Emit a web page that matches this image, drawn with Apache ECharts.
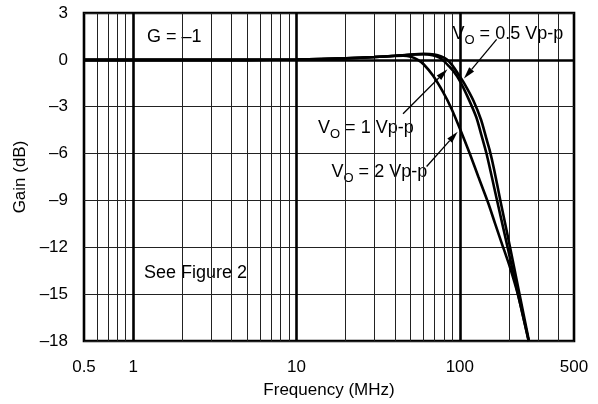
<!DOCTYPE html>
<html><head><meta charset="utf-8">
<script src="https://cdn.jsdelivr.net/npm/echarts@6/dist/echarts.min.js"></script>
<style>html,body{margin:0;padding:0;background:#fff}#c{width:598px;height:404px}</style>
</head><body><div id="c"></div>
<script>
// ---- data ----
const xTickValues = [0.5, 1, 10, 100, 500];
const yTickValues = [3, 0, -3, -6, -9, -12, -15, -18];
const majorFreqLines = [1, 10, 100];
const minorFreqLines = [0.6, 0.7, 0.8, 0.9, 2, 3, 4, 5, 6, 7, 8, 9, 20, 30, 40, 50, 60, 70, 80, 90, 200, 300, 400];

// VO = 0.5 Vp-p
const freqA = [0.5, 1, 2, 5, 10, 20, 30, 40, 50, 60, 70, 77, 83, 90, 97.7, 107, 121, 135, 145, 152, 162, 177, 203, 232, 265];
const gainA = [0, 0, 0, 0, 0.02, 0.1, 0.18, 0.26, 0.34, 0.38, 0.34, 0.22, 0.04, -0.35, -0.9, -1.55, -2.6, -3.85, -5.0, -5.75, -7.0, -9, -12, -15, -18];

// VO = 1 Vp-p
const freqB = [0.5, 1, 2, 5, 10, 20, 30, 40, 50, 60, 68, 75, 80, 86, 91, 100, 112, 126, 135, 145.6, 169, 196, 227, 264];
const gainB = [0, 0, 0, 0, 0.02, 0.1, 0.18, 0.26, 0.33, 0.36, 0.3, 0.15, -0.08, -0.42, -0.7, -1.34, -2.4, -3.66, -4.75, -6, -9, -12, -15, -18];

// VO = 2 Vp-p
const freqC = [0.5, 1, 2, 5, 10, 20, 30, 40, 45, 50, 55, 60, 68.6, 79, 88.9, 100, 115, 130, 149, 164, 180, 203, 229, 264];
const gainC = [0, 0, 0, 0, 0.02, 0.1, 0.18, 0.25, 0.26, 0.2, 0.02, -0.28, -1.02, -2.07, -3.13, -4.4, -6, -7.5, -9.15, -10.45, -11.7, -13.3, -15.2, -18];

const seriesNames = ['VO = 0.5 Vp-p', 'VO = 1 Vp-p', 'VO = 2 Vp-p'];
const arrowFrom = [[168, 1.31], [44.9, -3.45], [62.6, -6.83]];
const arrowTo = [[106, -1.2], [84, -0.6], [97, -4.6]];

// ---- chart ----
const FONT = '"Liberation Sans", Arial, Helvetica, sans-serif';
const chart = echarts.init(document.getElementById('c'), null, {renderer: 'canvas'});
const pairs = (fs, gs) => fs.map((f, i) => [f, gs[i]]);
const fmtY = v => v < 0 ? '\u2013' + Math.abs(v) : String(v);

const curve = (name, data) => ({
  name, type: 'line', data, smooth: 0.25, symbol: 'none', showSymbol: false,
  lineStyle: {color: '#000', width: 2.6}, z: 5, silent: true, clip: true
});

const gridLines = [
  ...minorFreqLines.map(f => ({xAxis: f, lineStyle: {color: '#222', width: 1, type: 'solid'}})),
  ...majorFreqLines.map(f => ({xAxis: f, lineStyle: {color: '#000', width: 2.6, type: 'solid'}})),
  {yAxis: 0, lineStyle: {color: '#000', width: 2.6, type: 'solid'}}
];

chart.setOption({
  animation: false,
  grid: {left: 84, right: 24, top: 13, bottom: 60, show: true, borderColor: '#000', borderWidth: 2.6, backgroundColor: 'transparent'},
  xAxis: {
    type: 'log', logBase: 10, min: 0.5, max: 500,
    name: 'Frequency (MHz)', nameLocation: 'middle', nameGap: 41,
    nameTextStyle: {fontFamily: FONT, fontSize: 17, color: '#000'},
    axisLine: {show: false}, axisTick: {show: false}, splitLine: {show: false},
    axisLabel: {fontFamily: FONT, fontSize: 17, color: '#000', margin: 18,
      formatter: v => String(Math.round(v * 10) / 10)}
  },
  yAxis: {
    type: 'value', min: -18, max: 3, interval: 3,
    name: 'Gain (dB)', nameLocation: 'middle', nameGap: 55,
    nameTextStyle: {fontFamily: FONT, fontSize: 17, color: '#000'},
    axisLine: {show: false}, axisTick: {show: false},
    splitLine: {show: true, lineStyle: {color: '#222', width: 1}},
    axisLabel: {fontFamily: FONT, fontSize: 17, color: '#000', margin: 16, formatter: fmtY}
  },
  series: [
    {type: 'line', data: pairs(freqA, gainA), symbol: 'none', lineStyle: {opacity: 0}, z: 1, silent: true,
     markLine: {silent: true, symbol: ['none', 'none'], label: {show: false}, emphasis: {disabled: true}, animation: false, data: gridLines}},
    curve(seriesNames[0], pairs(freqA, gainA)),
    curve(seriesNames[1], pairs(freqB, gainB)),
    curve(seriesNames[2], pairs(freqC, gainC))
  ]
});

// ---- annotations ----
const ctx = document.createElement('canvas').getContext('2d');
function measure(t, font) { ctx.font = font; return ctx.measureText(t).width; }

function label(x, yc, parts) {
  const els = [];
  let cx = x;
  parts.forEach(p => {
    const font = p.size + 'px ' + FONT;
    els.push({type: 'text', x: cx, y: yc + (p.dy || 0), z: 4,
      style: {text: p.t, font, fill: '#000', textAlign: 'left', textVerticalAlign: 'middle', align: 'left', verticalAlign: 'middle'}});
    cx += measure(p.t, font);
  });
  const box = {type: 'rect', z: 3, shape: {x: x - 3, y: yc - 11, width: cx - x + 6, height: 23}, style: {fill: '#fff'}};
  return [box, ...els];
}
const vo = (x, yc, rest) => label(x, yc, [{t: 'V', size: 18}, {t: 'O', size: 13, dy: 6}, {t: rest, size: 18}]);

const graphics = [
  ...label(147, 37, [{t: 'G = \u20131', size: 18}]),
  ...label(144, 273, [{t: 'See Figure 2', size: 18}]),
  ...vo(452.5, 34, ' = 0.5 Vp-p'),
  ...vo(318, 128, ' = 1 Vp-p'),
  ...vo(331.5, 172, ' = 2 Vp-p')
];

arrowFrom.forEach((from, i) => {
  const p0 = chart.convertToPixel({gridIndex: 0}, from);
  const p1 = chart.convertToPixel({gridIndex: 0}, arrowTo[i]);
  const dx = p1[0] - p0[0], dy = p1[1] - p0[1];
  const len = Math.hypot(dx, dy), ux = dx / len, uy = dy / len;
  const L = 12, W = 3.2;
  const bx = p1[0] - ux * L, by = p1[1] - uy * L;
  graphics.push({type: 'line', z: 6, shape: {x1: p0[0], y1: p0[1], x2: bx, y2: by}, style: {stroke: '#000', lineWidth: 1.3}});
  graphics.push({type: 'polygon', z: 6, shape: {points: [[p1[0], p1[1]], [bx - uy * W, by + ux * W], [bx + uy * W, by - ux * W]]}, style: {fill: '#000'}});
});

chart.setOption({graphic: graphics});
</script>
</body></html>
